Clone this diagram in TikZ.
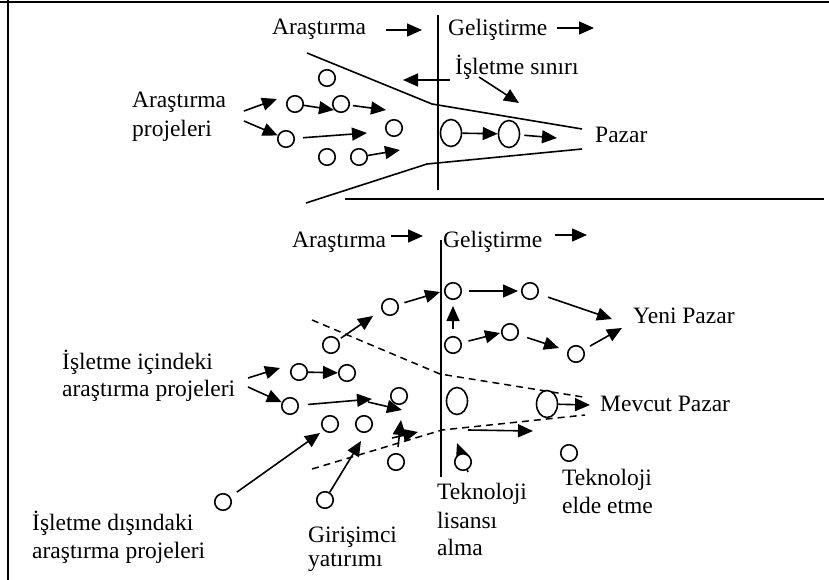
\documentclass[tikz,border=0pt]{standalone}
\usepackage{fontspec}
\setmainfont{Liberation Serif}
\usetikzlibrary{arrows.meta,shapes.geometric}
\tikzset{
  dot/.style={circle,draw,line width=1.6pt,minimum size=16.5pt,inner sep=0pt,fill=white},
  ell/.style={ellipse,draw,line width=1.6pt,minimum width=21pt,minimum height=27pt,inner sep=0pt,fill=white},
  arr/.style={line width=1.6pt,-{Triangle[length=15pt,width=13pt]}},
  ln/.style={line width=1.6pt},
  dl/.style={line width=1.5pt,dash pattern=on 7pt off 5pt},
  frame/.style={line width=2.2pt},
  txt/.style={anchor=base west,inner sep=0pt,font=\fontsize{23.5}{28}\selectfont},
}
\begin{document}
\begin{tikzpicture}[x=1pt,y=-1pt]
\useasboundingbox (0,0) rectangle (829,580);
% frame
\coordinate (fr1) at (0,2); \coordinate (fr2) at (829,2);
\coordinate (fr3) at (8,0); \coordinate (fr4) at (8,580);
\coordinate (sp1) at (345,199); \coordinate (sp2) at (824,199);
\draw[frame] (fr1) -- (fr2);
\draw[frame] (fr3) -- (fr4);
\draw[frame] (sp1) -- (sp2);

% ===== top part =====
\coordinate (tv1) at (438,15); \coordinate (tv2) at (438,190);
\draw[ln] (tv1) -- (tv2);
\coordinate (fu1) at (307,53); \coordinate (fu2) at (432,104); \coordinate (fu3) at (582,129);
\coordinate (fl1) at (306,203); \coordinate (fl2) at (427,164); \coordinate (fl3) at (582,149);
\draw[ln] (fu1) -- (fu2) -- (fu3);
\draw[ln] (fl1) -- (fl2) -- (fl3);

\node[txt] (tAr) at (272,35) {Araştırma};
\node[txt] (tGe) at (448,36) {Geliştirme};
\node[txt] (tIs) at (455,75) {İşletme sınırı};
\node[txt] (tAp1) at (132,108) {Araştırma};
\node[txt] (tAp2) at (132,137) {projeleri};
\node[txt] (tPz) at (595,143) {Pazar};

\node[dot] (c1) at (327,78) {};
\node[dot] (c2) at (295,104) {};
\node[dot] (c3) at (341,104) {};
\node[dot] (c4) at (286,139) {};
\node[dot] (c5) at (394,128) {};
\node[dot] (c6) at (327,157) {};
\node[dot] (c7) at (359,157) {};
\node[ell] (e1) at (451,133) {};
\node[ell] (e2) at (509,134) {};

\coordinate (ta1s) at (386,30); \coordinate (ta1e) at (422,30);
\coordinate (ta2s) at (557,28); \coordinate (ta2e) at (594,28);
\coordinate (ta3s) at (450,80); \coordinate (ta3e) at (403,80);
\coordinate (ta4s) at (479,77); \coordinate (ta4e) at (519,103);
\coordinate (ta5s) at (244,111); \coordinate (ta5e) at (277,99);
\coordinate (ta6s) at (244,121);
\coordinate (ta7e) at (334,110);
\coordinate (ta8e) at (386,110);
\coordinate (ta9e) at (367,133);
\coordinate (ta10e) at (400,150);
\coordinate (ta12e) at (557,138);
\draw[arr] (ta1s) -- (ta1e);
\draw[arr] (ta2s) -- (ta2e);
\draw[arr] (ta3s) -- (ta3e);
\draw[arr] (ta4s) -- (ta4e);
\draw[arr] (ta5s) -- (ta5e);
\draw[arr] (ta6s) -- (c4);
\draw[arr] (c2) -- (ta7e);
\draw[arr,shorten <=3pt] (c3) -- (ta8e);
\draw[arr,shorten <=8pt] (c4) -- (ta9e);
\draw[arr] (c7) -- (ta10e);
\draw[arr] (e1) -- (e2);
\draw[arr,shorten <=4pt] (e2) -- (ta12e);

% ===== bottom part =====
\coordinate (bv1) at (441,240); \coordinate (bv2) at (441,477);
\draw[ln] (bv1) -- (bv2);
\coordinate (d1) at (312,320); \coordinate (d2) at (440,374); \coordinate (d3) at (583,397);
\coordinate (d4) at (312,469); \coordinate (d5) at (442,430); \coordinate (d6) at (585,415);
\draw[dl] (d1) -- (d2) -- (d3);
\draw[dl] (d4) -- (d5) -- (d6);

\node[txt] (bAr) at (292,247) {Araştırma};
\node[txt] (bGe) at (443,247) {Geliştirme};
\node[txt] (bYP) at (633,323) {Yeni Pazar};
\node[txt] (bMP) at (600,411) {Mevcut Pazar};
\node[txt] (bIi1) at (62,369) {İşletme içindeki};
\node[txt] (bIi2) at (62,396) {araştırma projeleri};
\node[txt] (bId1) at (32,530) {İşletme dışındaki};
\node[txt] (bId2) at (32,558) {araştırma projeleri};
\node[txt] (bGi1) at (308,542) {Girişimci};
\node[txt] (bGi2) at (308,566) {yatırımı};
\node[txt] (bTl1) at (437,499) {Teknoloji};
\node[txt] (bTl2) at (437,528) {lisansı};
\node[txt] (bTl3) at (437,555) {alma};
\node[txt] (bTe1) at (562,485) {Teknoloji};
\node[txt] (bTe2) at (562,513) {elde etme};

% arrows drawn before circles where they pass through
\coordinate (bb20s) at (468,472); \coordinate (bb20e) at (457,443);
\draw[arr] (bb20s) -- (bb20e);

\node[dot] (b1) at (390,307) {};
\node[dot] (b2) at (453,291) {};
\node[dot] (b3) at (453,345) {};
\node[dot] (b4) at (331,345) {};
\node[dot] (b5) at (299,372) {};
\node[dot] (b6) at (347,373) {};
\node[dot] (b7) at (290,406) {};
\node[dot] (b8) at (399,396) {};
\node[dot] (b9) at (530,291) {};
\node[dot] (b10) at (510,332) {};
\node[dot] (b11) at (576,354) {};
\node[dot] (b12) at (330,424) {};
\node[dot] (b13) at (364,424) {};
\node[dot] (b14) at (396,462) {};
\node[dot] (b15) at (325,500) {};
\node[dot] (b16) at (463,462) {};
\node[dot] (b17) at (569,453) {};
\node[dot] (b18) at (223,502) {};
\node[ell] (E3) at (457,401) {};
\node[ell] (E4) at (547,404) {};

\coordinate (ba1s) at (391,236); \coordinate (ba1e) at (423,236);
\coordinate (ba2s) at (555,235); \coordinate (ba2e) at (587,235);
\coordinate (bb1e) at (373,316);
\coordinate (bb2e) at (440,292);
\coordinate (bb3e) at (453,306);
\coordinate (bb4e) at (518,291);
\coordinate (bb5e) at (612,319);
\coordinate (bb6e) at (500,333);
\coordinate (bb7e) at (559,348);
\coordinate (bb8e) at (622,328);
\coordinate (bb9e) at (590,405);
\coordinate (bb10s) at (248,378); \coordinate (bb10e) at (280,368);
\coordinate (bb11s) at (248,387);
\coordinate (bb13e) at (372,399);
\coordinate (bb14s) at (368,402); \coordinate (bb14e) at (402,410);
\coordinate (bb15e) at (320,433);
\coordinate (bb16e) at (361,441);
\coordinate (bb17s) at (398,447); \coordinate (bb17e) at (401,420);
\coordinate (bb18s) at (392,438); \coordinate (bb18e) at (418,432);
\coordinate (bb19s) at (468,430); \coordinate (bb19e) at (533,431);

\draw[arr] (ba1s) -- (ba1e);
\draw[arr] (ba2s) -- (ba2e);
\draw[arr,shorten <=3pt] (b4) -- (bb1e);
\draw[arr,shorten <=6pt] (b1) -- (bb2e);
\draw[arr,shorten <=7pt] (b3) -- (bb3e);
\draw[arr,shorten <=7pt] (b2) -- (bb4e);
\draw[arr,shorten <=10pt] (b9) -- (bb5e);
\draw[arr,shorten <=7pt] (b3) -- (bb6e);
\draw[arr,shorten <=9pt] (b10) -- (bb7e);
\draw[arr,shorten <=7pt] (b11) -- (bb8e);
\draw[arr] (E4) -- (bb9e);
\draw[arr] (bb10s) -- (bb10e);
\draw[arr] (bb11s) -- (b7);
\draw[arr] (b5) -- (b6);
\draw[arr,shorten <=9pt] (b7) -- (bb13e);
\draw[arr] (bb14s) -- (bb14e);
\draw[arr,shorten <=8pt] (b18) -- (bb15e);
\draw[arr] (b15) -- (bb16e);
\draw[arr] (bb17s) -- (bb17e);
\draw[arr] (bb18s) -- (bb18e);
\draw[arr] (bb19s) -- (bb19e);
\end{tikzpicture}
\end{document}
